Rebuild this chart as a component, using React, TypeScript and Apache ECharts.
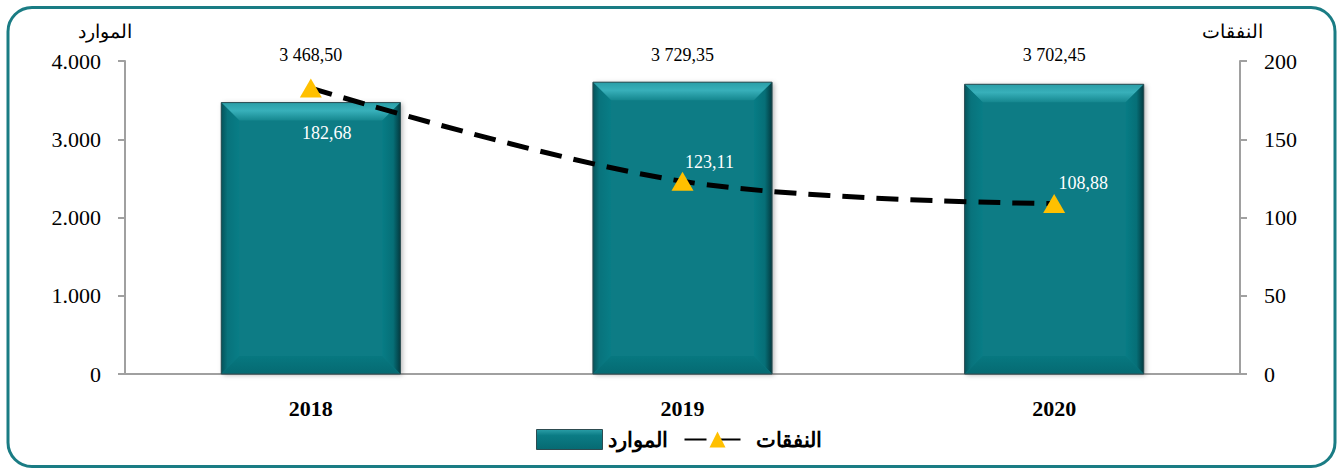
import React, { useEffect, useRef } from "react";
import * as echarts from "echarts";

const years = ["2018", "2019", "2020"];
const resources = [3468.5, 3729.35, 3702.45];
const expenses = [182.68, 123.11, 108.88];
const leftTicks = { min: 0, max: 4000, interval: 1000 };
const rightTicks = { min: 0, max: 200, interval: 50 };
const resourcesName = "الموارد";
const expensesName = "النفقات";

const SERIF = "Liberation Serif";

function fmtThousandsDot(v: number): string {
  const s = String(Math.round(v));
  return s.replace(/\B(?=(\d{3})+(?!\d))/g, ".");
}
function fmtSpaceComma(v: number): string {
  const [i, d] = v.toFixed(2).split(".");
  return i.replace(/\B(?=(\d{3})+(?!\d))/g, " ") + "," + d;
}

const lineLabelPlacement = [
  { position: "bottom", offset: [16, 21] },
  { position: "top", offset: [27, 4] },
  { position: "top", offset: [29, 3] },
];

export default function App() {
  const ref = useRef<HTMLDivElement>(null);
  useEffect(() => {
    if (!ref.current) return;
    const chart = echarts.init(ref.current, null, { renderer: "svg" });
    const lg = echarts.graphic.LinearGradient;
    const option: any = {
      animation: false,
      textStyle: { fontFamily: SERIF },
      grid: { left: 125, right: 98, top: 61, bottom: 96 },
      graphic: [
        {
          type: "rect",
          shape: { x: 8, y: 7.5, width: 1327, height: 459, r: 24 },
          style: { fill: "none", stroke: "#1a7c84", lineWidth: 3 },
          z: 0,
        },
      ],
      legend: {
        left: 531,
        top: 424,
        itemWidth: 66,
        itemHeight: 20,
        itemGap: 16,
        textStyle: { fontSize: 21, fontWeight: "bold", color: "#000", fontFamily: SERIF },
        data: [
          {
            name: resourcesName,
            icon: "rect",
            itemStyle: {
              color: new lg(0, 0, 0, 1, [
                { offset: 0, color: "#2b9ea7" },
                { offset: 0.3, color: "#0b7c85" },
                { offset: 1, color: "#066a72" },
              ]),
              borderColor: "#2d4b50",
              borderWidth: 1,
            },
          },
          { name: expensesName },
        ],
      },
      xAxis: {
        type: "category",
        data: years,
        axisLine: { show: true, lineStyle: { color: "#a0a0a0", width: 2 } },
        axisTick: { show: false },
        axisLabel: { fontSize: 22, fontWeight: "bold", color: "#000", margin: 23, fontFamily: SERIF },
      },
      yAxis: [
        {
          type: "value",
          ...leftTicks,
          name: resourcesName,
          nameLocation: "end",
          nameGap: 20,
          nameTextStyle: { fontSize: 19, color: "#000", align: "center", padding: [0, 40, 0, 0], fontFamily: SERIF },
          splitLine: { show: false },
          axisLine: { show: true, lineStyle: { color: "#a0a0a0", width: 2 } },
          axisTick: { show: true, length: 7, lineStyle: { color: "#a0a0a0", width: 2 } },
          axisLabel: { fontSize: 22, color: "#000", margin: 24, formatter: (v: number) => fmtThousandsDot(v), fontFamily: SERIF },
        },
        {
          type: "value",
          ...rightTicks,
          name: expensesName,
          nameLocation: "end",
          nameGap: 20,
          nameTextStyle: { fontSize: 19, color: "#000", align: "center", padding: [0, 16, 0, 0], fontFamily: SERIF },
          splitLine: { show: false },
          axisLine: { show: true, lineStyle: { color: "#a0a0a0", width: 2 } },
          axisTick: { show: true, length: 7, lineStyle: { color: "#a0a0a0", width: 2 } },
          axisLabel: { fontSize: 22, color: "#000", margin: 24, fontFamily: SERIF },
        },
      ],
      series: [
        {
          name: resourcesName,
          type: "custom",
          clip: false,
          itemStyle: { color: "#0b7880" },
          encode: { x: 0, y: 1 },
          data: resources.map((v, i) => [i, v]),
          renderItem: (params: any, api: any) => {
            const idx = api.value(0);
            const v = api.value(1);
            const top = api.coord([idx, v]);
            const base = api.coord([idx, 0]);
            const w = api.size([1, 0])[0] * 0.482;
            const x0 = top[0] - w / 2;
            const x1 = top[0] + w / 2;
            const y0 = top[1];
            const y1 = base[1];
            const b = 18;
            return {
              type: "group",
              children: [
                {
                  type: "rect",
                  shape: { x: x0, y: y0, width: w, height: y1 - y0 },
                  style: { fill: "#077c85", shadowBlur: 5, shadowColor: "rgba(0,0,0,0.3)", shadowOffsetX: 2, shadowOffsetY: 1 },
                },
                {
                  type: "polygon",
                  shape: { points: [[x0, y0], [x1, y0], [x1 - b, y0 + b], [x0 + b, y0 + b]] },
                  style: {
                    fill: new lg(0, 0, 0, 1, [
                      { offset: 0, color: "#2a9ea7" },
                      { offset: 0.45, color: "#38b0ba" },
                      { offset: 1, color: "#15878f" },
                    ]),
                  },
                },
                {
                  type: "polygon",
                  shape: { points: [[x0, y0], [x0 + b, y0 + b], [x0 + b, y1 - b], [x0, y1]] },
                  style: {
                    fill: new lg(0, 0, 1, 0, [
                      { offset: 0, color: "#05535a" },
                      { offset: 0.35, color: "#08737c" },
                      { offset: 1, color: "#087d86" },
                    ]),
                  },
                },
                {
                  type: "polygon",
                  shape: { points: [[x1, y0], [x1, y1], [x1 - b, y1 - b], [x1 - b, y0 + b]] },
                  style: {
                    fill: new lg(0, 0, 1, 0, [
                      { offset: 0, color: "#077c85" },
                      { offset: 0.6, color: "#066f77" },
                      { offset: 1, color: "#033a40" },
                    ]),
                  },
                },
                {
                  type: "polygon",
                  shape: { points: [[x0, y1], [x0 + b, y1 - b], [x1 - b, y1 - b], [x1, y1]] },
                  style: {
                    fill: new lg(0, 0, 0, 1, [
                      { offset: 0, color: "#077880" },
                      { offset: 1, color: "#056a72" },
                    ]),
                  },
                },
                {
                  type: "rect",
                  shape: { x: x0, y: y0, width: w, height: y1 - y0 },
                  style: { fill: "none", stroke: "#2e4d52", lineWidth: 1 },
                },
                {
                  type: "text",
                  x: top[0],
                  y: params.coordSys.y - 6,
                  style: {
                    text: fmtSpaceComma(v),
                    align: "center",
                    verticalAlign: "middle",
                    fontSize: 18,
                    fontFamily: SERIF,
                    fill: "#000",
                  },
                },
              ],
            };
          },
        },
        {
          name: expensesName,
          type: "line",
          yAxisIndex: 1,
          smooth: 0.35,
          symbol: "triangle",
          symbolSize: [22, 19],
          itemStyle: { color: "#ffc000" },
          lineStyle: { color: "#000", width: 5, type: [22, 12] },
          z: 5,
          label: {
            show: true,
            color: "#fff",
            fontSize: 18,
            fontFamily: SERIF,
            formatter: (p: any) => fmtSpaceComma(p.value),
          },
          data: expenses.map((v, i) => ({ value: v, label: lineLabelPlacement[i] })),
        },
      ],
    };
    chart.setOption(option);
    return () => chart.dispose();
  }, []);
  return (
    <div
      ref={ref}
      style={{ position: "fixed", left: 0, top: 0, width: 1338, height: 470, background: "#fff" }}
    />
  );
}
